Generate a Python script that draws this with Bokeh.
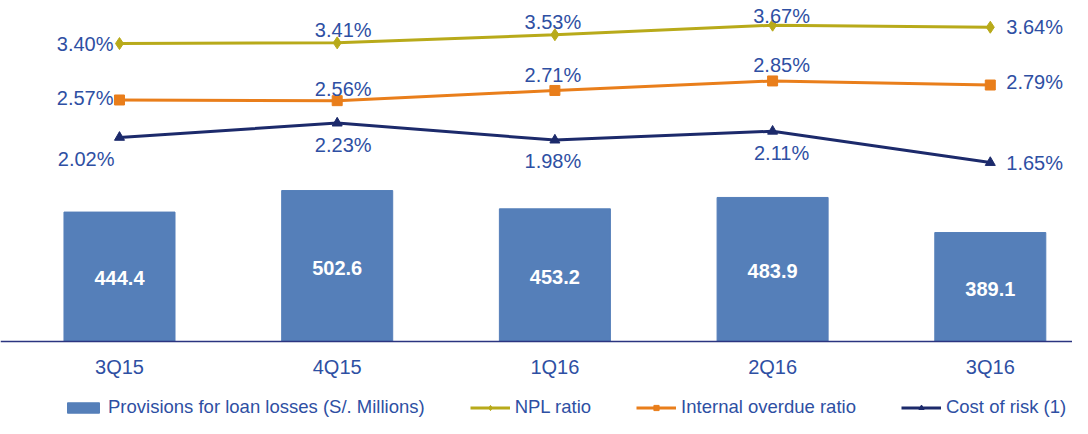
from bokeh.plotting import figure
from bokeh.models import Range1d, FixedTicker, Legend, LegendItem
from bokeh.core.properties import value
from bokeh.embed import file_html
from bokeh.resources import INLINE

# ---------------- data ----------------
quarters = ["3Q15", "4Q15", "1Q16", "2Q16", "3Q16"]
provisions = [444.4, 502.6, 453.2, 483.9, 389.1]      # S/. Millions
npl_ratio = [3.40, 3.41, 3.53, 3.67, 3.64]            # %
overdue_ratio = [2.57, 2.56, 2.71, 2.85, 2.79]        # %
cost_of_risk = [2.02, 2.23, 1.98, 2.11, 1.65]         # %

# ---------------- style ----------------
FONT = "Liberation Sans"
TEXT_BLUE = "#2E4FA3"
BAR_BLUE = "#557FB9"
NPL_COL = "#B8AA1A"
OD_COL = "#E97E1B"
COR_COL = "#1C2A6B"
AXIS_COL = "#2B3480"
BAR_BASE = 94.6          # value at which the category axis sits

# label placement (screen offsets)
NPL_POS = ["left", "above", "above", "above", "right"]
OD_POS = ["left", "above", "above", "above", "right"]
COR_POS = ["below_left", "below", "below", "below", "right"]
NPL_DY = [0, -13, -13, -9, 0]
OD_DY = [-2, -12, -15, -16, -3]
COR_DY = [22, 22, 21, 22, 0]
CENTER_DX = [0, 6, -2, 9, 0]

x = list(range(len(quarters)))

p = figure(width=1072, height=418, output_backend="svg", toolbar_location=None,
           x_range=Range1d(-0.5466, 4.3776), y_range=Range1d(-113.5, 1016.2),
           min_border=0, outline_line_color=None, background_fill_color="white")
p.grid.visible = False
p.yaxis.visible = False
p.extra_y_ranges = {"pct": Range1d(-2.114, 4.033)}

bars = p.vbar(x=x, top=provisions, bottom=BAR_BASE, width=0.51,
              fill_color=BAR_BLUE, line_color=BAR_BLUE)

p.text(x=x, y=[(BAR_BASE + v) / 2 for v in provisions],
       text=[f"{v:.1f}" for v in provisions], y_offset=1.5,
       text_align="center", text_baseline="middle",
       text_font=value(FONT), text_font_size="20px", text_font_style="bold",
       text_color="white")

xa = p.xaxis[0]
xa.fixed_location = BAR_BASE
xa.ticker = FixedTicker(ticks=x)
xa.major_label_overrides = {i: q for i, q in enumerate(quarters)}
xa.major_tick_line_color = None
xa.minor_tick_line_color = None
xa.axis_line_color = AXIS_COL
xa.axis_line_width = 1.5
xa.major_label_text_font = FONT
xa.major_label_text_font_size = "20px"
xa.major_label_text_color = TEXT_BLUE
xa.major_label_standoff = 8

def series(vals, color, marker, msize, pos, dys):
    ln = p.line(x, vals, y_range_name="pct", line_color=color, line_width=3)
    sc = p.scatter(x, vals, y_range_name="pct", marker=marker, size=msize,
                   fill_color=color, line_color=color)
    for i, v in enumerate(vals):
        kind = pos[i]
        if kind == "left":
            dx, align = -6, "right"
        elif kind == "right":
            dx, align = 16, "left"
        elif kind == "below_left":
            dx, align = -5, "right"
        else:
            dx, align = CENTER_DX[i], "center"
        p.text(x=[x[i]], y=[v], text=[f"{v:.2f}%"], y_range_name="pct",
               x_offset=dx, y_offset=dys[i], text_align=align,
               text_baseline="middle", text_font=value(FONT),
               text_font_size="20px", text_color=TEXT_BLUE)
    return [ln, sc]

npl_r = series(npl_ratio, NPL_COL, "diamond", 12, NPL_POS, NPL_DY)
od_r = series(overdue_ratio, OD_COL, "square", 10, OD_POS, OD_DY)
cor_r = series(cost_of_risk, COR_COL, "triangle", 10, COR_POS, COR_DY)

legend = Legend(items=[
    LegendItem(label="Provisions for loan losses (S/. Millions)", renderers=[bars]),
    LegendItem(label="NPL ratio", renderers=npl_r),
    LegendItem(label="Internal overdue ratio", renderers=od_r),
    LegendItem(label="Cost of risk (1)", renderers=cor_r),
], orientation="horizontal", location=(63, 0))
legend.glyph_width = 40
legend.glyph_height = 13
legend.label_standoff = 5
legend.spacing = 45
legend.padding = 0
legend.margin = 0
legend.border_line_color = None
legend.background_fill_alpha = 0
legend.label_text_font = FONT
legend.label_text_font_size = "18.5px"
legend.label_text_color = TEXT_BLUE
p.add_layout(legend)

open("out.html", "w").write(file_html(p, INLINE))
